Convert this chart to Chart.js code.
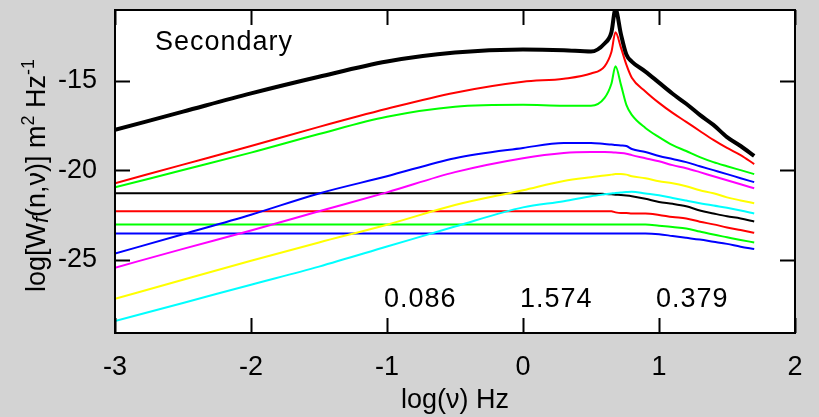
<!DOCTYPE html>
<html>
<head>
<meta charset="utf-8">
<script src="https://cdn.jsdelivr.net/npm/chart.js@4.4.1/dist/chart.umd.min.js"></script>
<style>
  html, body { margin: 0; padding: 0; background: #d3d3d3; }
  #wrap { width: 819px; height: 417px; }
</style>
</head>
<body>
<div id="wrap"><canvas id="myChart" width="819" height="417"></canvas></div>
<script>
// log frequency grid shared by all curves
var xVals = [-3, -2.5, -2, -1.5, -1, -0.5, 0, 0.3, 0.5, 0.6, 0.65, 0.68, 0.72, 0.76, 0.8, 0.9, 1.0, 1.1, 1.2, 1.3, 1.4, 1.5, 1.6, 1.7];

// resonant curves
var blackPeak = [-17.75, -16.73, -15.71, -14.78, -13.93, -13.43, -13.26, -13.3, -13.37, -12.92, -12.3, -11.0, -12.4, -13.54, -13.93, -14.49, -15.11, -15.73, -16.29, -16.91, -17.47, -18.15, -18.65, -19.2];
var redPeak = [-20.73, -19.69, -18.65, -17.58, -16.57, -15.67, -15.06, -14.89, -14.6, -14.2, -13.4, -12.3, -13.15, -14.1, -14.83, -15.6, -16.24, -16.8, -17.3, -17.81, -18.31, -18.76, -19.16, -19.66];
var greenPeak = [-20.96, -19.99, -19.02, -17.98, -17.02, -16.46, -16.35, -16.4, -16.4, -15.96, -15.17, -14.2, -15.22, -16.35, -16.91, -17.64, -18.15, -18.6, -18.93, -19.27, -19.55, -19.78, -20.0, -20.22];

// rising curves
var blueRise = [-24.66, -23.58, -22.49, -21.3, -20.34, -19.33, -18.76, -18.48, -18.48, -18.54, -18.57, -18.6, -18.62, -18.65, -18.82, -18.99, -19.21, -19.38, -19.55, -19.78, -20.0, -20.22, -20.45, -20.67];
var magentaRise = [-25.45, -24.4, -23.37, -22.3, -21.24, -20.11, -19.33, -19.04, -18.99, -18.99, -19.0, -19.02, -19.04, -19.08, -19.16, -19.33, -19.5, -19.72, -19.89, -20.11, -20.34, -20.56, -20.79, -21.01];
var yellowRise = [-27.19, -26.12, -25.06, -24.04, -23.05, -21.95, -21.12, -20.6, -20.39, -20.3, -20.25, -20.22, -20.22, -20.25, -20.34, -20.45, -20.62, -20.73, -20.9, -21.12, -21.29, -21.52, -21.69, -21.85];
var cyanRise = [-28.43, -27.42, -26.4, -25.39, -24.27, -23.15, -22.08, -21.74, -21.46, -21.35, -21.3, -21.27, -21.25, -21.22, -21.2, -21.3, -21.4, -21.55, -21.7, -21.85, -21.98, -22.1, -22.25, -22.42];

// flat curves
var blackFlat = [-21.29, -21.29, -21.29, -21.29, -21.29, -21.29, -21.29, -21.29, -21.3, -21.33, -21.35, -21.37, -21.39, -21.42, -21.46, -21.6, -21.78, -21.88, -22.02, -22.25, -22.42, -22.58, -22.7, -22.87];
var redFlat = [-22.3, -22.3, -22.3, -22.3, -22.3, -22.3, -22.3, -22.3, -22.3, -22.3, -22.3, -22.36, -22.4, -22.4, -22.42, -22.42, -22.5, -22.62, -22.7, -22.88, -23.03, -23.2, -23.35, -23.5];
var greenFlat = [-23.03, -23.03, -23.03, -23.03, -23.03, -23.03, -23.03, -23.03, -23.03, -23.03, -23.03, -23.03, -23.03, -23.03, -23.03, -23.03, -23.1, -23.18, -23.26, -23.43, -23.6, -23.75, -23.9, -24.04];
var blueFlat = [-23.54, -23.54, -23.54, -23.54, -23.54, -23.54, -23.54, -23.54, -23.54, -23.54, -23.54, -23.54, -23.54, -23.54, -23.54, -23.54, -23.58, -23.68, -23.78, -23.88, -24.0, -24.12, -24.28, -24.4];

var xTicks = [-3, -2, -1, 0, 1, 2];
var yTicks = [-25, -20, -15];

// numbers printed inside the plot, left edge at these x values
var noteX = [-1, 0, 1];
var noteText = ["0.086", "1.574", "0.379"];

var FONT = "Liberation Sans, Arial, sans-serif";

function pts(ys) {
  return xVals.map(function (x, i) { return { x: x, y: ys[i] }; });
}

function serie(ys, color, w) {
  return {
    data: pts(ys),
    borderColor: color,
    borderWidth: w,
    pointRadius: 0,
    cubicInterpolationMode: "monotone",
    fill: false
  };
}

function noPad(s) {
  s.paddingTop = 0; s.paddingBottom = 0; s.paddingLeft = 0; s.paddingRight = 0;
}

var frame = {
  id: "frame",
  beforeDraw: function (chart) {
    var c = chart.ctx, a = chart.chartArea;
    c.save();
    c.fillStyle = "#d3d3d3";
    c.fillRect(0, 0, chart.width, chart.height);
    c.fillStyle = "#ffffff";
    c.fillRect(a.left, a.top, a.right - a.left, a.bottom - a.top);
    c.restore();
  },
  afterDraw: function (chart) {
    var c = chart.ctx, a = chart.chartArea;
    var xs = chart.scales.x, ys = chart.scales.y;
    c.save();
    c.strokeStyle = "#000";
    c.lineWidth = 2;
    c.strokeRect(a.left, a.top, a.right - a.left, a.bottom - a.top);
    // inward tick marks on all four sides
    c.beginPath();
    xTicks.forEach(function (t) {
      var px = Math.round(xs.getPixelForValue(t)) + 0.5;
      c.moveTo(px, a.bottom); c.lineTo(px, a.bottom - 15);
      c.moveTo(px, a.top); c.lineTo(px, a.top + 15);
    });
    yTicks.forEach(function (t) {
      var py = Math.round(ys.getPixelForValue(t)) + 0.5;
      c.moveTo(a.left, py); c.lineTo(a.left + 15, py);
      c.moveTo(a.right, py); c.lineTo(a.right - 15, py);
    });
    c.stroke();

    c.fillStyle = "#000";
    c.font = "27px " + FONT;
    c.textBaseline = "alphabetic";
    c.textAlign = "left";
    c.letterSpacing = "1px";
    c.fillText("Secondary", 155, 50);
    noteText.forEach(function (s, i) {
      c.fillText(s, xs.getPixelForValue(noteX[i]) - 3, 307);
    });

    // x title
    c.textAlign = "center";
    c.letterSpacing = "0px";
    c.fillText("log(\u03bd) Hz", (a.left + a.right) / 2, 408);

    // y title with super/sub scripts
    var parts = [
      { t: "log[W", f: "27px " + FONT, dy: 0 },
      { t: "f", f: "italic 22px " + FONT, dy: 3 },
      { t: "(n,\u03bd)] m", f: "27px " + FONT, dy: 0 },
      { t: "2", f: "18px " + FONT, dy: -11 },
      { t: " Hz", f: "27px " + FONT, dy: 0 },
      { t: "-1", f: "18px " + FONT, dy: -11 }
    ];
    var total = 0;
    parts.forEach(function (p) { c.font = p.f; p.w = c.measureText(p.t).width; total += p.w; });
    c.translate(45, (a.top + a.bottom) / 2 + 4);
    c.rotate(-Math.PI / 2);
    c.textAlign = "left";
    var cx = -total / 2;
    parts.forEach(function (p) {
      c.font = p.f;
      c.fillText(p.t, cx, p.dy);
      cx += p.w;
    });
    c.restore();
  }
};

new Chart("myChart", {
  type: "line",
  data: {
    datasets: [
      serie(blackPeak, "#000000", 4),
      serie(redPeak, "#ff0000", 2),
      serie(greenPeak, "#00ff00", 2),
      serie(blueRise, "#0000ff", 2),
      serie(magentaRise, "#ff00ff", 2),
      serie(yellowRise, "#ffff00", 2),
      serie(cyanRise, "#00ffff", 2),
      serie(blackFlat, "#000000", 2),
      serie(redFlat, "#ff0000", 2),
      serie(greenFlat, "#00ff00", 2),
      serie(blueFlat, "#0000ff", 2)
    ]
  },
  options: {
    responsive: false,
    animation: false,
    layout: { padding: { top: 10, right: 24, left: 0, bottom: 0 } },
    plugins: { legend: { display: false }, tooltip: { enabled: false } },
    scales: {
      x: {
        type: "linear",
        min: -3, max: 2,
        grid: { display: false },
        border: { display: false },
        afterBuildTicks: function (s) { s.ticks = xTicks.map(function (v) { return { value: v }; }); },
        afterFit: function (s) { s.height = 84; noPad(s); },
        ticks: { color: "#000", padding: 10, maxRotation: 0, font: { family: FONT, size: 27 } }
      },
      y: {
        type: "linear",
        min: -29.1, max: -11.05,
        grid: { display: false },
        border: { display: false },
        afterBuildTicks: function (s) { s.ticks = yTicks.map(function (v) { return { value: v }; }); },
        afterFit: function (s) { s.width = 115; noPad(s); },
        ticks: { color: "#000", padding: 10, font: { family: FONT, size: 27 } }
      }
    }
  },
  plugins: [frame]
});
</script>
</body>
</html>
